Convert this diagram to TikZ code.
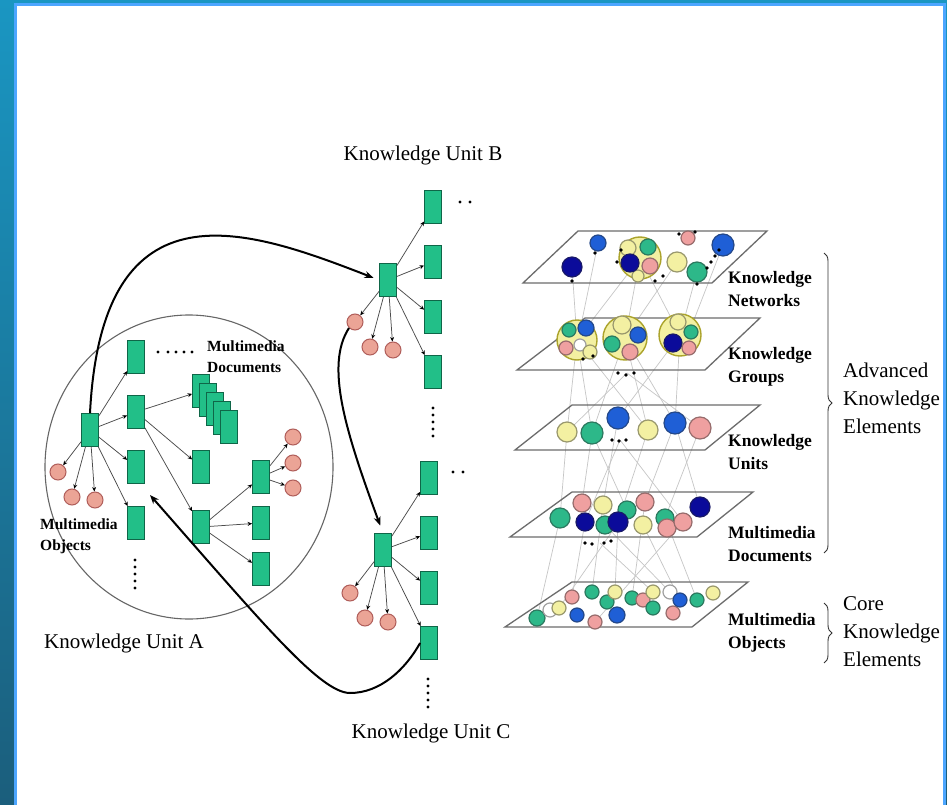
\documentclass[tikz,border=0pt]{standalone}
\usepackage{fontspec}
\setmainfont{Liberation Serif}
\usetikzlibrary{arrows.meta,decorations.pathreplacing,calc}
\definecolor{kgreen}{HTML}{22BF88}
\definecolor{kgreenD}{HTML}{0F6648}
\definecolor{kpinkN}{HTML}{EBA496}
\definecolor{kpinkD}{HTML}{B05E5A}
\definecolor{kteal}{HTML}{2DB889}
\definecolor{kblue}{HTML}{1F5FD6}
\definecolor{knavy}{HTML}{0B0B9A}
\definecolor{kyel}{HTML}{F3F0A2}
\definecolor{kpink}{HTML}{EFA0A0}
\definecolor{kwhite}{HTML}{FFFFFF}
\definecolor{bgtop}{HTML}{1A96C2}
\definecolor{bgbot}{HTML}{1B5E7C}
\definecolor{blight}{HTML}{4DA6FF}
\newcommand\kball[4]{\draw[line width=1.2pt,draw=#4!65!black!85!gray,fill=#4] (#1,#2) circle (#3pt);}
\newcommand\kdot[2]{\fill[black] (#1,#2) circle (1.8pt);}
\tikzset{
  gbox/.style={draw=kgreenD,fill=kgreen,line width=0.8pt,minimum width=17pt,minimum height=33pt,inner sep=0pt},
  pinkobj/.style={circle,draw=kpinkD,fill=kpinkN,line width=1pt,minimum size=16pt,inner sep=0pt},
  conn/.style={draw=gray!60!black,line width=0.75pt,-{Stealth[length=4.5pt,width=4pt,black]}},
  bigarrow/.style={draw=black,line width=2pt,-{Stealth[length=9pt,width=7pt]}},
  plane/.style={draw=gray!85!black,line width=1.3pt},
  vline/.style={draw=gray!45,line width=0.7pt},
  biglabel/.style={font=\fontsize{21}{28}\selectfont,inner sep=0pt},
  smalllabel/.style={font=\bfseries\fontsize{15.5}{21}\selectfont,align=left,inner sep=0pt},
  layerlabel/.style={font=\bfseries\fontsize{17.5}{23}\selectfont,align=left,inner sep=0pt,anchor=west},
  kbrace/.style={decorate,decoration={brace,amplitude=8pt},draw=gray!40!black,line width=0.9pt},
  grpring/.style={line width=1.4pt,draw=olive!75,fill=kyel}
}
\begin{document}
\begin{tikzpicture}[x=1pt,y=-1pt]
\useasboundingbox (0,0) rectangle (947,805);
% frame
\shade[top color=bgtop,bottom color=bgbot] (0,0) rectangle (947,805);
\fill[blight] (14,3) rectangle (946,805);
\fill[white] (17,6) rectangle (943,805);

% ---------- Knowledge Unit A ----------
\draw[gray!80!black,line width=1.1pt] (189,467) ellipse (144pt and 152pt);
\node[gbox] (A0) at (90,430) {};
\node[gbox] (A1) at (136,357) {};
\node[gbox] (A2) at (136,412) {};
\node[gbox] (A3) at (136,467) {};
\node[gbox] (A4) at (136,523) {};
\foreach \i in {0,...,4} {\node[gbox] (D\i) at ({201+7*\i},{391+9*\i}) {};}
\node[gbox] (A5) at (201,467) {};
\node[gbox] (A6) at (201,527) {};
\node[gbox] (A7) at (261,477) {};
\node[gbox] (A8) at (261,523) {};
\node[gbox] (A9) at (261,569) {};
\node[pinkobj] (pa1) at (58,472) {};
\node[pinkobj] (pa2) at (72,497) {};
\node[pinkobj] (pa3) at (95,500) {};
\node[pinkobj] (pa4) at (293,437) {};
\node[pinkobj] (pa5) at (293,463) {};
\node[pinkobj] (pa6) at (293,488) {};
\foreach \t in {A1,A2,A3,A4,pa1,pa2,pa3} {\draw[conn] (A0) -- (\t);}
\draw[conn] (A2) -- (D0);
\draw[conn] (A2) -- (A5);
\draw[conn] (A2) -- (A6);
\foreach \t in {A7,A8,A9} {\draw[conn] (A6) -- (\t);}
\foreach \t in {pa4,pa5,pa6} {\draw[conn] (A7) -- (\t);}
\foreach \x in {158,168,176,184,192} {\fill (\x,352) circle (1.7pt);}
\foreach \y in {560,567,574,581,588} {\fill (135,\y) circle (1.7pt);}
\node[smalllabel,anchor=west] (mmdoc) at (207,357) {Multimedia\\Documents};
\node[smalllabel,anchor=west] (mmobj) at (40,536) {Multimedia\\Objects};
\node[biglabel] (kua) at (124,643) {Knowledge Unit A};

% ---------- Knowledge Unit B ----------
\node[biglabel] (kub) at (423,155) {Knowledge Unit B};
\node[gbox] (B0) at (388,280) {};
\node[gbox] (B1) at (433,207) {};
\node[gbox] (B2) at (433,262) {};
\node[gbox] (B3) at (433,317) {};
\node[gbox] (B4) at (433,372) {};
\node[pinkobj] (pb1) at (355,322) {};
\node[pinkobj] (pb2) at (370,347) {};
\node[pinkobj] (pb3) at (393,350) {};
\foreach \t in {B1,B2,B3,B4,pb1,pb2,pb3} {\draw[conn] (B0) -- (\t);}
\foreach \x in {460,470} {\fill (\x,202) circle (1.7pt);}
\foreach \y in {408,415,422,429,436} {\fill (433,\y) circle (1.7pt);}

% ---------- Knowledge Unit C ----------
\node[gbox] (C0) at (383,550) {};
\node[gbox] (C1) at (429,478) {};
\node[gbox] (C2) at (429,533) {};
\node[gbox] (C3) at (429,588) {};
\node[gbox] (C4) at (429,643) {};
\node[pinkobj] (pc1) at (350,593) {};
\node[pinkobj] (pc2) at (365,618) {};
\node[pinkobj] (pc3) at (388,622) {};
\foreach \t in {C1,C2,C3,C4,pc1,pc2,pc3} {\draw[conn] (C0) -- (\t);}
\foreach \x in {453,463} {\fill (\x,472) circle (1.7pt);}
\foreach \y in {679,686,693,700,707} {\fill (428,\y) circle (1.7pt);}
\node[biglabel] (kuc) at (431,733) {Knowledge Unit C};

% ---------- long arrows ----------
\coordinate (tipA) at (150,495);
\draw[bigarrow,shorten >=6pt] (A0.north) .. controls (102,175) and (250,230) .. (B0.west);
\draw[bigarrow,shorten >=8pt] (pb1.south west) .. controls (325,365) and (345,430) .. (C0.north);
\draw[bigarrow] (C4.west) .. controls (405,670) and (380,693) .. (350,693)
   .. controls (320,693) and (260,620) .. (tipA);

% ---------- layer stack ----------
\foreach \a/\b/\c/\d in {
 537/618/560/518, 572/597/585/522, 592/592/603/505, 615/592/618/522, 632/598/645/502,
 653/592/600/543, 670/592/605/525, 680/600/643/525, 697/600/665/518, 559/608/627/510, 595/622/683/522,
 560/518/567/432, 582/503/592/433, 603/505/618/418, 618/522/648/430, 645/502/675/423,
 665/518/700/428, 627/510/592/433, 683/522/620/440, 700/507/675/423, 585/522/620/440,
 567/432/577/340, 592/433/625/338, 618/418/680/335, 648/430/625/338, 675/423/680/335,
 700/428/627/373, 567/432/627/373, 592/433/577/340, 648/430/577/340, 675/423/625/338,
 577/340/572/267, 580/330/598/243, 625/338/640/258, 680/335/697/272, 680/335/640/258,
 625/338/677/262, 577/340/640/258, 690/330/723/245}
 {\draw[vline] (\a,\b) -- (\c,\d);}
\draw[plane] (578,231) -- (767,231) -- (712,283) -- (523,283) -- cycle;
\draw[plane] (585,318) -- (760,318) -- (705,370) -- (517,370) -- cycle;
\draw[plane] (572,405) -- (760,405) -- (705,450) -- (515,450) -- cycle;
\draw[plane] (572,492) -- (753,492) -- (697,537) -- (510,537) -- cycle;
\draw[plane] (572,582) -- (748,582) -- (692,627) -- (505,627) -- cycle;

% P1 knowledge networks
\kball{572}{267}{10}{knavy}
\kball{598}{243}{8}{kblue}
\draw[grpring] (640,258) circle (21pt);
\kball{628}{248}{8}{kyel}
\kball{648}{247}{8}{kteal}
\kball{650}{266}{8}{kpink}
\kball{638}{276}{6}{kyel}
\kball{630}{263}{9}{knavy}
\kball{688}{238}{7}{kpink}
\kball{677}{262}{10}{kyel}
\kball{697}{272}{10}{kteal}
\kball{723}{245}{11}{kblue}
\foreach \x/\y in {572/281,595/253,617/262,621/250,655/281,663/276,679/234,695/232,707/268,711/262,715/256,719/250,697/284}
  {\kdot{\x}{\y}}
% P2 knowledge groups
\draw[grpring] (577,340) circle (20pt);
\kball{569}{330}{7}{kteal}
\kball{586}{328}{8}{kblue}
\kball{566}{348}{7}{kpink}
\kball{580}{345}{6}{kwhite}
\kball{590}{352}{7}{kyel}
\draw[grpring] (625,338) circle (22pt);
\kball{622}{325}{9}{kyel}
\kball{638}{335}{8}{kblue}
\kball{612}{344}{8}{kteal}
\kball{630}{352}{8}{kpink}
\draw[grpring] (680,335) circle (21pt);
\kball{678}{322}{8}{kyel}
\kball{691}{332}{7}{kteal}
\kball{673}{343}{9}{knavy}
\kball{689}{348}{7}{kpink}
\foreach \x/\y in {583/359,593/356,618/373,626/375,634/373}
  {\kdot{\x}{\y}}
% P3 knowledge units
\kball{567}{432}{10}{kyel}
\kball{592}{433}{11}{kteal}
\kball{618}{418}{11}{kblue}
\kball{648}{430}{10}{kyel}
\kball{675}{423}{11}{kblue}
\kball{700}{428}{11}{kpink}
\foreach \x/\y in {612/440,619/441,626/440}
  {\kdot{\x}{\y}}
% P4 multimedia documents
\kball{560}{518}{10}{kteal}
\kball{582}{503}{9}{kpink}
\kball{603}{505}{9}{kyel}
\kball{627}{510}{9}{kteal}
\kball{645}{502}{9}{kpink}
\kball{665}{518}{9}{kteal}
\kball{585}{522}{9}{knavy}
\kball{605}{525}{9}{kteal}
\kball{618}{522}{10}{knavy}
\kball{643}{525}{9}{kyel}
\kball{667}{528}{9}{kpink}
\kball{683}{522}{9}{kpink}
\kball{700}{507}{10}{knavy}
\foreach \x/\y in {585/543,592/544,604/543,611/541}
  {\kdot{\x}{\y}}
% P5 multimedia objects
\kball{537}{618}{8}{kteal}
\kball{550}{610}{7}{kwhite}
\kball{559}{608}{7}{kyel}
\kball{572}{597}{7}{kpink}
\kball{577}{615}{7}{kblue}
\kball{592}{592}{7}{kteal}
\kball{595}{622}{7}{kpink}
\kball{607}{602}{7}{kteal}
\kball{615}{592}{7}{kyel}
\kball{617}{615}{8}{kblue}
\kball{632}{598}{7}{kteal}
\kball{643}{600}{7}{kpink}
\kball{653}{592}{7}{kyel}
\kball{653}{608}{7}{kteal}
\kball{670}{592}{7}{kwhite}
\kball{673}{613}{7}{kpink}
\kball{680}{600}{7}{kblue}
\kball{697}{600}{7}{kteal}
\kball{713}{593}{7}{kyel}

% layer labels
\node[layerlabel] (lnet) at (728,289) {Knowledge\\Networks};
\node[layerlabel] (lgrp) at (728,367) {Knowledge\\Groups};
\node[layerlabel] (luni) at (728,452) {Knowledge\\Units};
\node[layerlabel] (ldoc) at (728,544) {Multimedia\\Documents};
\node[layerlabel] (lobj) at (728,633) {Multimedia\\Objects};
\draw[kbrace] (824,253) -- (824,553);
\draw[kbrace] (824,603) -- (824,663);
\node[biglabel,anchor=west,align=left] (adv) at (843,398) {Advanced\\Knowledge\\Elements};
\node[biglabel,anchor=west,align=left] (core) at (843,632) {Core\\Knowledge\\Elements};
\end{tikzpicture}
\end{document}
